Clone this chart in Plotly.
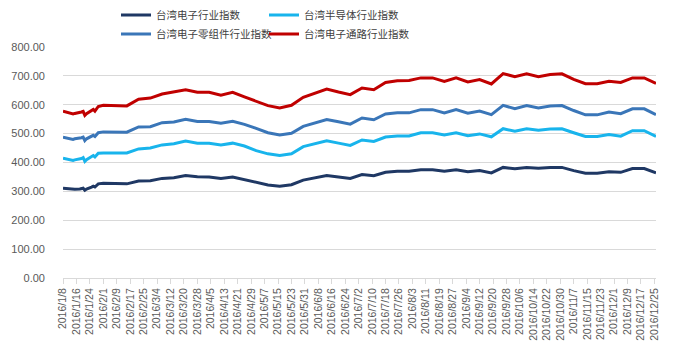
import pandas as pd
import plotly.graph_objects as go

# ---- data ----
daily_dates = ["2016-01-08", "2016-01-11", "2016-01-12", "2016-01-13", "2016-01-14", "2016-01-15",
               "2016-01-18", "2016-01-19", "2016-01-20", "2016-01-21", "2016-01-22",
               "2016-01-25", "2016-01-26", "2016-01-27", "2016-01-28", "2016-01-29"]
weekly_dates = ["2016-02-01", "2016-02-08", "2016-02-15", "2016-02-22", "2016-02-29", "2016-03-07",
                "2016-03-14", "2016-03-21", "2016-03-28", "2016-04-04", "2016-04-11", "2016-04-18",
                "2016-04-25", "2016-05-02", "2016-05-09", "2016-05-16", "2016-05-23", "2016-05-30",
                "2016-06-06", "2016-06-13", "2016-06-20", "2016-06-27", "2016-07-04", "2016-07-11",
                "2016-07-18", "2016-07-25", "2016-08-01", "2016-08-08", "2016-08-15", "2016-08-22",
                "2016-08-29", "2016-09-05", "2016-09-12", "2016-09-19", "2016-09-26", "2016-10-03",
                "2016-10-10", "2016-10-17", "2016-10-24", "2016-10-31", "2016-11-07", "2016-11-14",
                "2016-11-21", "2016-11-28", "2016-12-05", "2016-12-12", "2016-12-19", "2016-12-26"]
dates = daily_dates + weekly_dates

electronics = [311, 309, 308, 307, 306, 307, 308, 310, 311, 304, 308, 315, 318, 315, 322, 326,
               328, 327, 326, 336, 337, 345, 347, 355, 351, 350, 345, 350, 341, 332, 322, 318, 323, 339,
               346, 355, 350, 345, 358, 354, 366, 370, 370, 375, 375, 370, 375, 368, 372, 364, 383, 378,
               383, 380, 383, 383, 372, 363, 363, 368, 366, 379, 379, 364]
semiconductor = [415, 412, 410, 408, 407, 409, 411, 414, 417, 404, 410, 419, 424, 419, 427, 432,
                 433, 433, 433, 447, 450, 461, 465, 474, 467, 467, 461, 467, 457, 441, 430, 424, 430, 455,
                 465, 475, 467, 459, 478, 473, 488, 492, 492, 503, 503, 495, 503, 493, 499, 489, 517, 508,
                 517, 512, 516, 517, 503, 490, 490, 497, 491, 510, 510, 490]
components = [488, 485, 483, 481, 480, 482, 484, 486, 488, 476, 482, 490, 494, 490, 498, 503,
              506, 506, 505, 523, 524, 538, 540, 550, 542, 542, 536, 543, 532, 518, 503, 495, 501, 525,
              538, 549, 541, 533, 554, 548, 568, 572, 572, 583, 583, 572, 583, 571, 578, 566, 598, 586,
              597, 589, 596, 597, 580, 565, 565, 575, 569, 586, 586, 566]
distribution = [578, 574, 572, 570, 568, 570, 572, 575, 577, 563, 569, 580, 584, 578, 588, 594,
                598, 598, 596, 619, 623, 637, 644, 652, 643, 643, 633, 643, 627, 612, 597, 589, 598, 626,
                640, 654, 644, 635, 658, 652, 677, 683, 684, 693, 693, 681, 693, 679, 687, 672, 708, 697,
                707, 697, 705, 707, 688, 673, 673, 681, 677, 693, 693, 674]

series_names = ["台湾电子行业指数", "台湾半导体行业指数", "台湾电子零组件行业指数", "台湾电子通路行业指数"]
series_values = [electronics, semiconductor, components, distribution]
colors = ["#1F3864", "#18B4EC", "#3A76B8", "#C00000"]

tick_dates = pd.date_range("2016-01-08", "2016-12-25", freq="8D")
tick_text = [f"{d.year}/{d.month}/{d.day}" for d in tick_dates]

FONT = "Liberation Sans, Noto Sans CJK SC, sans-serif"

fig = go.Figure()
legend_ids = ["legend", "legend2", "legend3", "legend4"]
for name, vals, col, lg in zip(series_names, series_values, colors, legend_ids):
    fig.add_trace(go.Scatter(x=pd.to_datetime(dates), y=vals, mode="lines", name=name,
                             line=dict(color=col, width=3), legend=lg, showlegend=True))

W, H = 677, 348
ml, mr, mt, mb = 63, 21, 47, 70
pw, ph = W - ml - mr, H - mt - mb

def px_x(p):
    return (p - ml) / pw

def px_y(p):
    return 1 + (mt - p) / ph

leg_common = dict(orientation="h", xanchor="left", yanchor="middle", bgcolor="rgba(0,0,0,0)",
                  font=dict(family=FONT, size=10.5, color="#404040"), borderwidth=0,
                  itemwidth=30, visible=True)
fig.update_layout(
    width=W, height=H,
    showlegend=True,
    margin=dict(l=ml, r=mr, t=mt, b=mb, autoexpand=False),
    paper_bgcolor="white", plot_bgcolor="white",
    font=dict(family=FONT, color="#595959"),
    legend=dict(x=px_x(116), y=px_y(15), **leg_common),
    legend2=dict(x=px_x(264), y=px_y(15), **leg_common),
    legend3=dict(x=px_x(116), y=px_y(34), **leg_common),
    legend4=dict(x=px_x(264), y=px_y(34), **leg_common),
    xaxis=dict(
        type="date",
        range=[pd.Timestamp("2016-01-08"), pd.Timestamp("2016-12-26")],
        tickmode="array", tickvals=tick_dates, ticktext=tick_text,
        tickangle=-90, tickfont=dict(size=10.5, color="#595959", family=FONT),
        showgrid=False, showline=True, linecolor="#D9D9D9", linewidth=1,
        ticks="outside", ticklen=5, tickcolor="#D9D9D9",
    ),
    yaxis=dict(
        range=[0, 800], dtick=100, tickformat=".2f",
        tickfont=dict(size=11, color="#595959", family=FONT),
        showgrid=True, gridcolor="#D9D9D9", gridwidth=1,
        zeroline=False, showline=False, ticks="", ticklabelstandoff=17,
    ),
)

fig.write_html("out.html")
